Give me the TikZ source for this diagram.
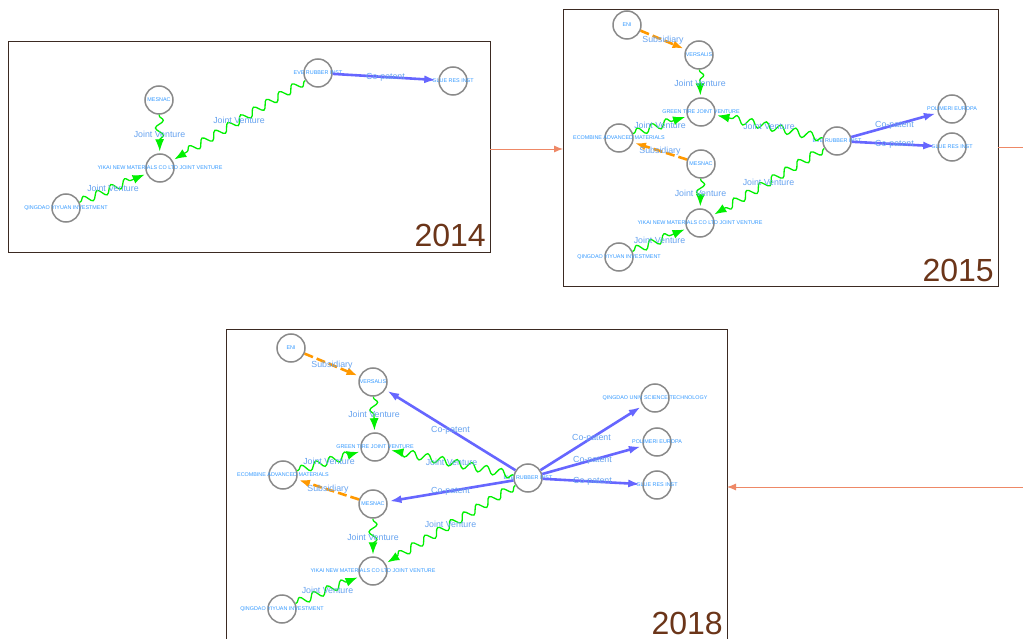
\documentclass[tikz,border=0pt]{standalone}
\usepackage{fontspec}
\setmainfont{Liberation Sans}
\usetikzlibrary{decorations.pathmorphing, arrows.meta}
\definecolor{jvgreen}{HTML}{00F000}
\definecolor{cpblue}{HTML}{6666FF}
\definecolor{subor}{HTML}{FF9900}
\definecolor{nodeblue}{HTML}{3399FF}
\definecolor{elabblue}{HTML}{66A3F0}
\definecolor{yearbrown}{HTML}{6B3519}
\definecolor{framebrown}{HTML}{3B2A22}
\definecolor{flowsalmon}{HTML}{EE8866}
\definecolor{circgray}{HTML}{8A8A8A}
\tikzset{
  ent/.style={circle, draw=circgray, line width=1.5pt, minimum size=28pt, inner sep=0pt},
  nlab/.style={font=\fontsize{5.4}{6}\selectfont, text=nodeblue, inner sep=0pt},
  elab/.style={font=\fontsize{8.8}{10}\selectfont, text=elabblue, inner sep=0pt},
  jv/.style={draw=jvgreen, line width=1.3pt, decorate,
    decoration={snake, amplitude=4pt, segment length=15pt, pre length=1pt, post length=11pt},
    -{Latex[length=12pt,width=9pt]}, shorten >=2pt},
  cpat/.style={draw=cpblue, line width=2.6pt, -{Latex[length=12pt,width=8pt]}, shorten >=2pt},
  sub/.style={draw=subor, line width=2.6pt, dash pattern=on 9pt off 4pt,
    -{Latex[length=11pt,width=8pt]}, shorten >=2pt},
  year/.style={font=\fontsize{32}{36}\selectfont, text=yearbrown, anchor=base east, inner sep=0pt},
  panel/.style={draw=framebrown, line width=0.9pt, inner sep=0pt, outer sep=0pt, anchor=north west},
  flow/.style={draw=flowsalmon, line width=0.9pt, -{Latex[length=9pt,width=7pt]}}
}
\begin{document}
\begin{tikzpicture}[x=1pt,y=-1pt]
\useasboundingbox (0,0) rectangle (1023,639);
\clip (0,0) rectangle (1023,639);
\fill[white] (0,0) rectangle (1023,639);

% panels
\node[panel, minimum width=482pt, minimum height=211pt] (p14) at (8,41) {};
\node[panel, minimum width=435pt, minimum height=277pt] (p15) at (563,9) {};
\node[panel, minimum width=501pt, minimum height=320pt] (p18) at (226,329) {};
\node[year] (y14) at (486,247) {2014};
\node[year] (y15) at (994,281) {2015};
\node[year] (y18) at (723,634) {2018};
\draw[flow] ([yshift=-2.5pt]p14.east) -- ([yshift=-2.5pt]p14.east -| p15.west);
\draw[flow] (p15.east) -- ++(40,0) |- ([yshift=2pt]p18.east);

% ---- 2014 ----
\node[ent, label={[nlab]center:MESNAC}] (am) at (159,100) {};
\node[ent, label={[nlab]center:YIKAI NEW MATERIALS CO LTD JOINT VENTURE}] (ay) at (160,168) {};
\node[ent, label={[nlab]center:QINGDAO YIYUAN INVESTMENT}] (aq) at (66,208) {};
\node[ent, label={[nlab]center:EVE RUBBER INST}] (ae) at (318,73) {};
\node[ent, label={[nlab]center:GLUE RES INST}] (ag) at (453,81) {};
\draw[jv] (am) -- node[elab]{Joint Venture} (ay);
\draw[jv] (ae) -- node[elab]{Joint Venture} (ay);
\draw[jv] (aq) -- node[elab]{Joint Venture} (ay);
\draw[cpat] (ae) -- node[elab]{Co-patent} (ag);

% ---- 2015 ----
\node[ent, label={[nlab]center:ENI}] (bn) at (627,25) {};
\node[ent, label={[nlab]center:VERSALIS}] (bv) at (699,55) {};
\node[ent, label={[nlab]center:GREEN TIRE JOINT VENTURE}] (bt) at (701,112) {};
\node[ent, label={[nlab]center:ECOMBINE ADVANCED MATERIALS}] (bc) at (619,138) {};
\node[ent, label={[nlab]center:MESNAC}] (bm) at (701,164) {};
\node[ent, label={[nlab]center:YIKAI NEW MATERIALS CO LTD JOINT VENTURE}] (by) at (700,223) {};
\node[ent, label={[nlab]center:QINGDAO YIYUAN INVESTMENT}] (bq) at (619,257) {};
\node[ent, label={[nlab]center:EVE RUBBER INST}] (be) at (837,141) {};
\node[ent, label={[nlab]center:POLIMERI EUROPA}] (bp) at (952,109) {};
\node[ent, label={[nlab]center:GLUE RES INST}] (bg) at (952,147) {};
\draw[sub] (bn) -- node[elab]{Subsidiary} (bv);
\draw[jv] (bv) -- node[elab]{Joint Venture} (bt);
\draw[jv] (bc) -- node[elab]{Joint Venture} (bt);
\draw[jv] (be) -- node[elab]{Joint Venture} (bt);
\draw[sub] (bm) -- node[elab]{Subsidiary} (bc);
\draw[jv] (bm) -- node[elab]{Joint Venture} (by);
\draw[jv] (be) -- node[elab]{Joint Venture} (by);
\draw[jv] (bq) -- node[elab]{Joint Venture} (by);
\draw[cpat] (be) -- node[elab]{Co-patent} (bp);
\draw[cpat] (be) -- node[elab]{Co-patent} (bg);

% ---- 2018 ----
\node[ent, label={[nlab]center:ENI}] (cn) at (291,348) {};
\node[ent, label={[nlab]center:VERSALIS}] (cv) at (373,382) {};
\node[ent, label={[nlab]center:GREEN TIRE JOINT VENTURE}] (ct) at (375,447) {};
\node[ent, label={[nlab]center:ECOMBINE ADVANCED MATERIALS}] (cc) at (283,475) {};
\node[ent, label={[nlab]center:MESNAC}] (cm) at (373,504) {};
\node[ent, label={[nlab]center:YIKAI NEW MATERIALS CO LTD JOINT VENTURE}] (cy) at (373,571) {};
\node[ent, label={[nlab]center:QINGDAO YIYUAN INVESTMENT}] (cq) at (282,609) {};
\node[ent, label={[nlab]center:EVE RUBBER INST}] (ce) at (528,478) {};
\node[ent, label={[nlab]center:QINGDAO UNIV SCIENCE TECHNOLOGY}] (cu) at (655,398) {};
\node[ent, label={[nlab]center:POLIMERI EUROPA}] (cpo) at (657,442) {};
\node[ent, label={[nlab]center:GLUE RES INST}] (cg) at (657,485) {};
\draw[sub] (cn) -- node[elab]{Subsidiary} (cv);
\draw[jv] (cv) -- node[elab]{Joint Venture} (ct);
\draw[cpat] (ce) -- node[elab]{Co-patent} (cv);
\draw[jv] (cc) -- node[elab]{Joint Venture} (ct);
\draw[jv] (ce) -- node[elab]{Joint Venture} (ct);
\draw[sub] (cm) -- node[elab]{Subsidiary} (cc);
\draw[cpat] (ce) -- node[elab]{Co-patent} (cm);
\draw[jv] (cm) -- node[elab]{Joint Venture} (cy);
\draw[jv] (ce) -- node[elab]{Joint Venture} (cy);
\draw[jv] (cq) -- node[elab]{Joint Venture} (cy);
\draw[cpat] (ce) -- node[elab]{Co-patent} (cu);
\draw[cpat] (ce) -- node[elab]{Co-patent} (cpo);
\draw[cpat] (ce) -- node[elab]{Co-patent} (cg);
\end{tikzpicture}
\end{document}
